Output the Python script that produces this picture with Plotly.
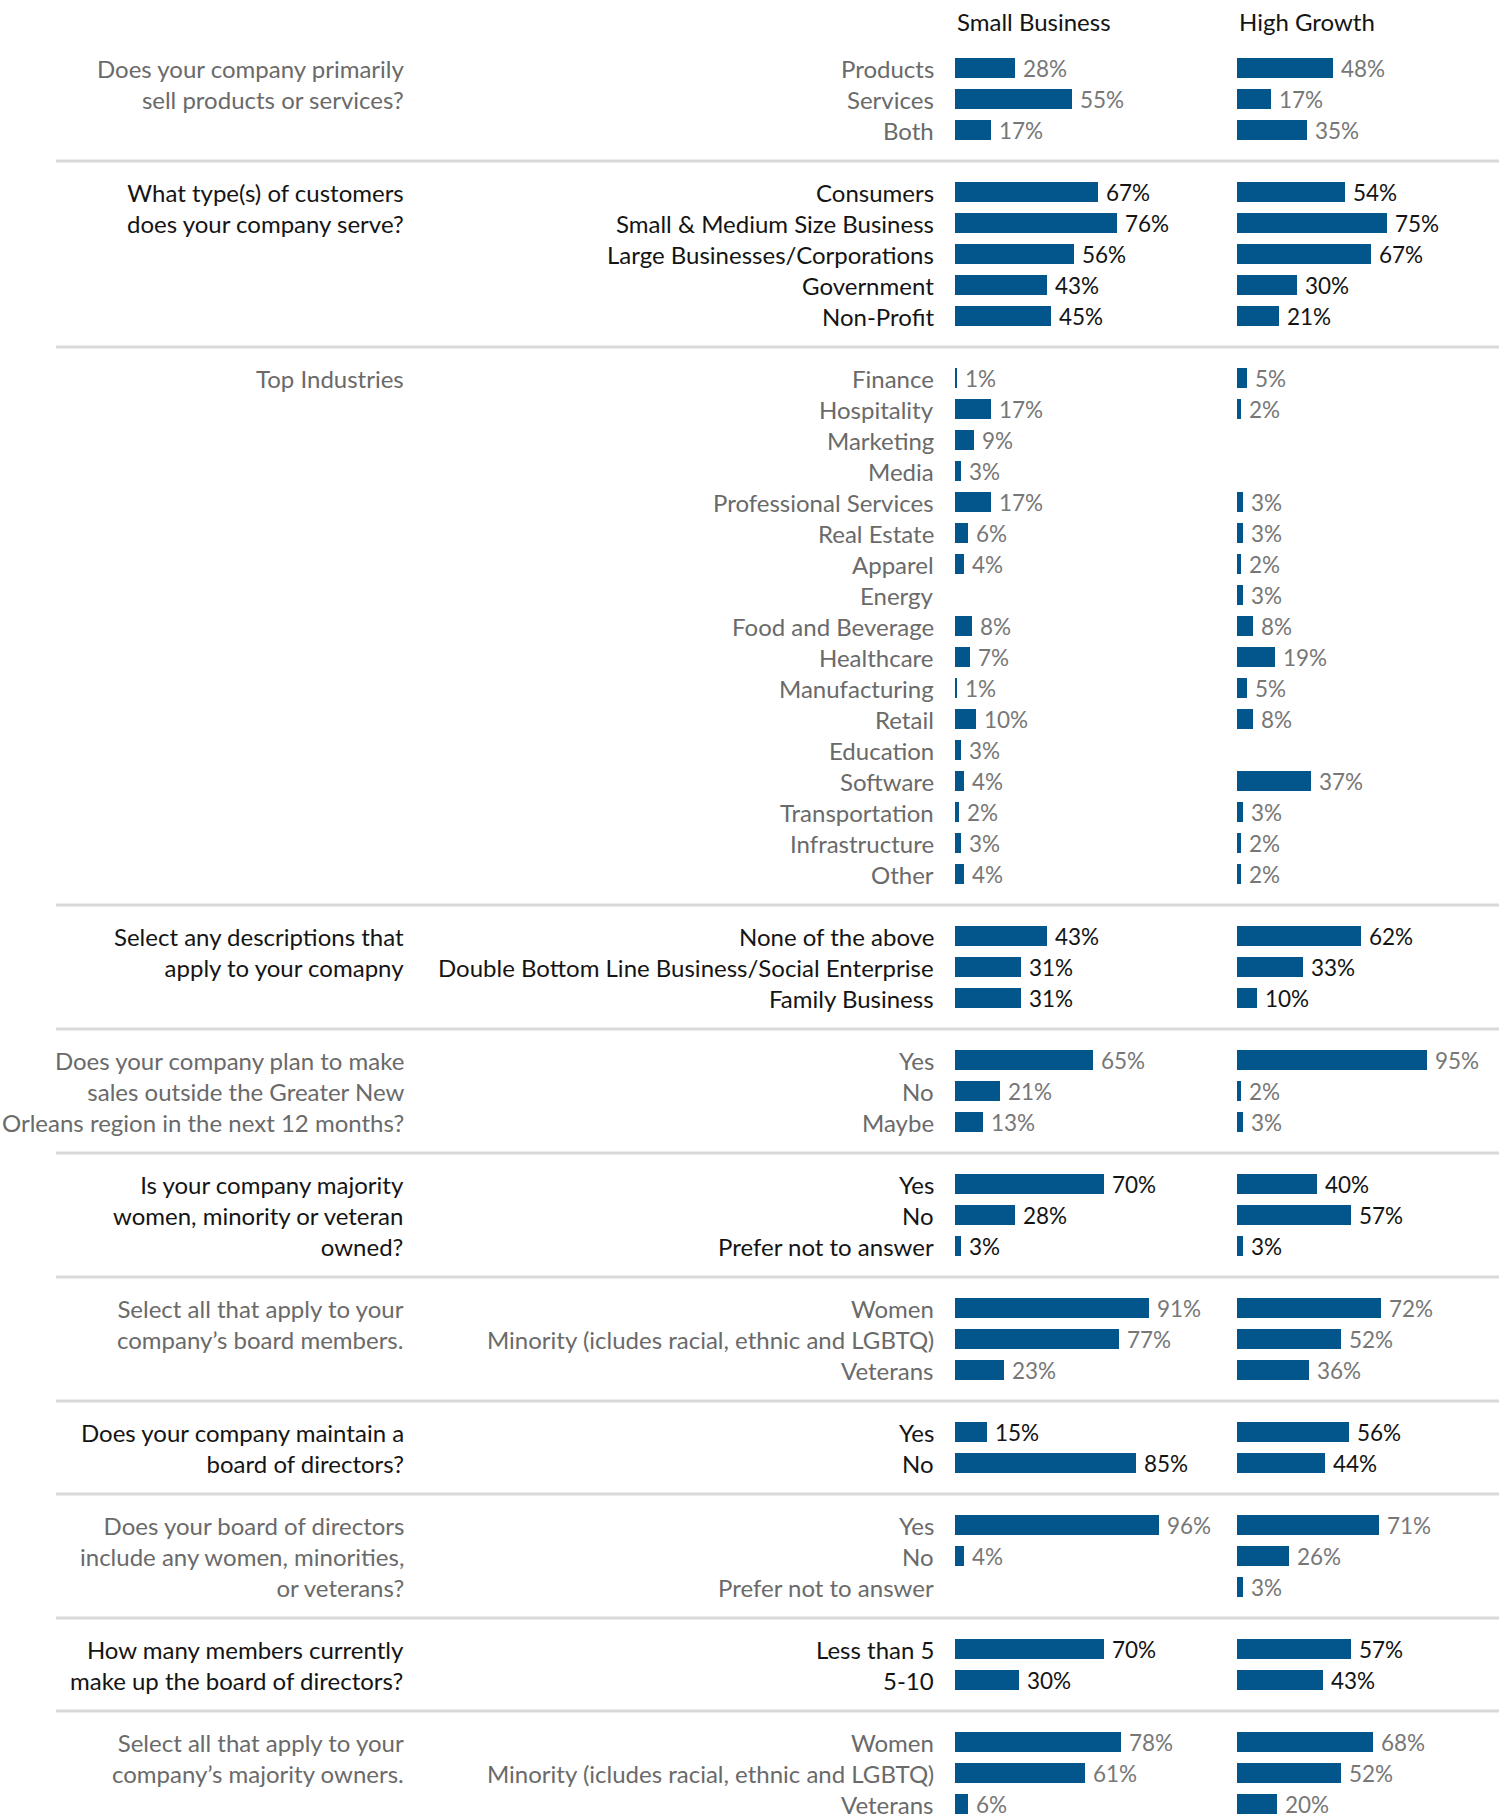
import plotly.graph_objects as go

# ---- survey data -------------------------------------------------------
# each section: question text, category labels, Small Business %, High Growth %
q1_text = "Does your company primarily<br>sell products or services?"
q1_cats = ["Products", "Services", "Both"]
q1_small = [28, 55, 17]
q1_high = [48, 17, 35]

q2_text = "What type(s) of customers<br>does your company serve?"
q2_cats = ["Consumers", "Small & Medium Size Business", "Large Businesses/Corporations",
           "Government", "Non-Profit"]
q2_small = [67, 76, 56, 43, 45]
q2_high = [54, 75, 67, 30, 21]

q3_text = "Top Industries"
q3_cats = ["Finance", "Hospitality", "Marketing", "Media", "Professional Services",
           "Real Estate", "Apparel", "Energy", "Food and Beverage", "Healthcare",
           "Manufacturing", "Retail", "Education", "Software", "Transportation",
           "Infrastructure", "Other"]
q3_small = [1, 17, 9, 3, 17, 6, 4, None, 8, 7, 1, 10, 3, 4, 2, 3, 4]
q3_high = [5, 2, None, None, 3, 3, 2, 3, 8, 19, 5, 8, None, 37, 3, 2, 2]

q4_text = "Select any descriptions that<br>apply to your comapny"
q4_cats = ["None of the above", "Double Bottom Line Business/Social Enterprise",
           "Family Business"]
q4_small = [43, 31, 31]
q4_high = [62, 33, 10]

q5_text = ("Does your company plan to make<br>sales outside the Greater New<br>"
           "Orleans region in the next 12 months?")
q5_cats = ["Yes", "No", "Maybe"]
q5_small = [65, 21, 13]
q5_high = [95, 2, 3]

q6_text = "Is your company majority<br>women, minority or veteran<br>owned?"
q6_cats = ["Yes", "No", "Prefer not to answer"]
q6_small = [70, 28, 3]
q6_high = [40, 57, 3]

q7_text = "Select all that apply to your<br>company\u2019s board members."
q7_cats = ["Women", "Minority (icludes racial, ethnic and LGBTQ)", "Veterans"]
q7_small = [91, 77, 23]
q7_high = [72, 52, 36]

q8_text = "Does your company maintain a<br>board of directors?"
q8_cats = ["Yes", "No"]
q8_small = [15, 85]
q8_high = [56, 44]

q9_text = "Does your board of directors<br>include any women, minorities,<br>or veterans?"
q9_cats = ["Yes", "No", "Prefer not to answer"]
q9_small = [96, 4, None]
q9_high = [71, 26, 3]

q10_text = "How many members currently<br>make up the board of directors?"
q10_cats = ["Less than 5", "5-10"]
q10_small = [70, 30]
q10_high = [57, 43]

q11_text = "Select all that apply to your<br>company\u2019s majority owners."
q11_cats = ["Women", "Minority (icludes racial, ethnic and LGBTQ)", "Veterans"]
q11_small = [78, 61, 6]
q11_high = [68, 52, 20]

series_names = ["Small Business", "High Growth"]

sections = [
    (q1_text, q1_cats, q1_small, q1_high),
    (q2_text, q2_cats, q2_small, q2_high),
    (q3_text, q3_cats, q3_small, q3_high),
    (q4_text, q4_cats, q4_small, q4_high),
    (q5_text, q5_cats, q5_small, q5_high),
    (q6_text, q6_cats, q6_small, q6_high),
    (q7_text, q7_cats, q7_small, q7_high),
    (q8_text, q8_cats, q8_small, q8_high),
    (q9_text, q9_cats, q9_small, q9_high),
    (q10_text, q10_cats, q10_small, q10_high),
    (q11_text, q11_cats, q11_small, q11_high),
]

# ---- styling -----------------------------------------------------------
W, H = 1505, 1815
FONT = "Lato"
BAR = "#03568c"
DARK = "#141414"
GREY = "#6a6a6a"
GREY_PCT = "#777777"
RULE = "#d9d9d9"
ROW_PX = 31.0          # vertical pitch of one row
FIRST_PX = 68.0        # pixel centre of the first row
Q_FS = 24              # question / category font size
PCT_FS = 22.5

# ---- lay out rows: one blank row between sections, rule in the middle ---
row_y, row_small, row_high = [], [], []
annotations, shapes = [], []
u = 0
for i, (qtext, cats, small, high) in enumerate(sections):
    colour = GREY if i % 2 == 0 else DARK
    pct_colour = GREY_PCT if i % 2 == 0 else DARK
    first = u
    nlines = qtext.count("<br>") + 1
    line_units = (Q_FS * 1.3) / ROW_PX
    annotations.append(dict(
        text=qtext, xref="paper", yref="y", x=406 / W,
        y=first + (nlines - 1) * line_units / 2,
        xanchor="right", yanchor="middle", align="right", showarrow=False,
        font=dict(family=FONT, size=Q_FS, color=colour)))
    for c, s, h in zip(cats, small, high):
        row_y.append(u)
        row_small.append(s)
        row_high.append(h)
        annotations.append(dict(
            text=c, xref="paper", yref="y", x=936 / W, y=u,
            xanchor="right", yanchor="middle", showarrow=False,
            font=dict(family=FONT, size=Q_FS, color=colour)))
        for axis, v in (("x", s), ("x2", h)):
            if v is None:
                continue
            annotations.append(dict(
                text=f"{v}%", xref=axis, yref="y", x=v, y=u,
                xanchor="left", yanchor="middle", xshift=6, showarrow=False,
                font=dict(family=FONT, size=PCT_FS, color=pct_colour)))
        u += 1
    if i < len(sections) - 1:
        shapes.append(dict(
            type="line", xref="paper", yref="y", x0=56 / W, x1=1499 / W, y0=u, y1=u,
            line=dict(color=RULE, width=3)))
        u += 1

# column headers
header_y = (21 - FIRST_PX) / ROW_PX
annotations.append(dict(text=series_names[0], xref="x", yref="y", x=0, y=header_y,
                        xanchor="left", yanchor="middle", showarrow=False,
                        font=dict(family=FONT, size=Q_FS, color=DARK)))
annotations.append(dict(text=series_names[1], xref="x2", yref="y", x=0, y=header_y,
                        xanchor="left", yanchor="middle", showarrow=False,
                        font=dict(family=FONT, size=Q_FS, color=DARK)))

fig = go.Figure()
fig.add_trace(go.Bar(name=series_names[0], y=row_y, x=row_small, orientation="h",
                     width=0.63, marker=dict(color=BAR, line=dict(width=0)),
                     xaxis="x", yaxis="y", hoverinfo="skip"))
fig.add_trace(go.Bar(name=series_names[1], y=row_y, x=row_high, orientation="h",
                     width=0.63, marker=dict(color=BAR, line=dict(width=0)),
                     xaxis="x2", yaxis="y", hoverinfo="skip"))

# 0..100 % spans 213 px for Small Business and 200 px for High Growth
sb0, sb100 = 955, 955 + 213
hg0, hg100 = 1237, 1237 + 200

fig.update_layout(
    width=W, height=H,
    margin=dict(l=0, r=0, t=0, b=0),
    paper_bgcolor="white", plot_bgcolor="white",
    showlegend=False,
    xaxis=dict(domain=[sb0 / W, sb100 / W], range=[0, 100], visible=False,
               anchor="y", fixedrange=True),
    xaxis2=dict(domain=[hg0 / W, hg100 / W], range=[0, 100], visible=False,
                anchor="y", fixedrange=True),
    yaxis=dict(domain=[0, 1], range=[(H - FIRST_PX) / ROW_PX, -FIRST_PX / ROW_PX],
               visible=False, fixedrange=True),
    annotations=annotations,
    shapes=shapes,
    bargap=0,
)

fig.write_html("out.html")
